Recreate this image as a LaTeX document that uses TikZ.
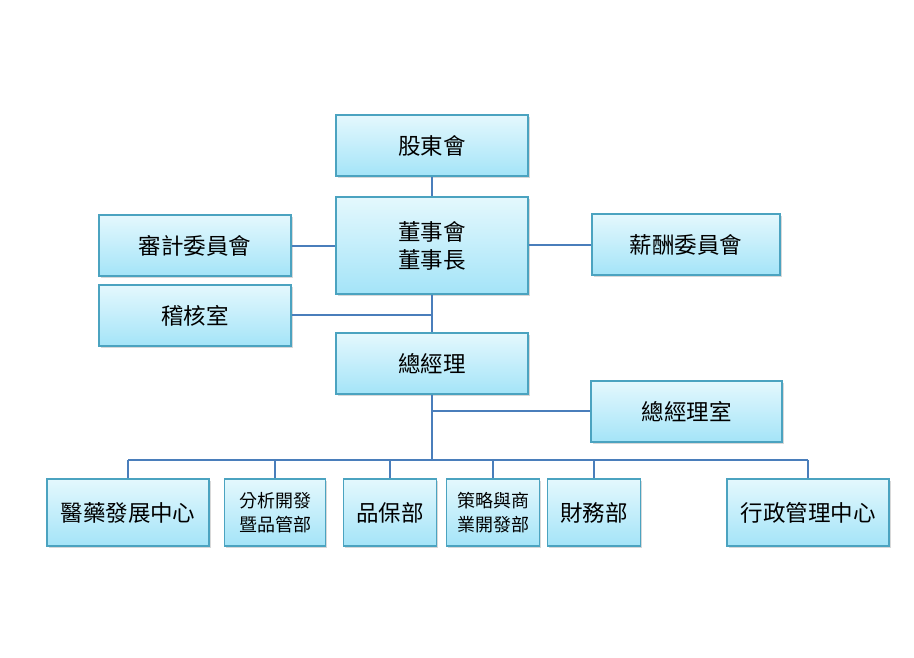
\documentclass[tikz,border=0pt]{standalone}
\usepackage{fontspec}
\newfontfamily\cjk{Noto Sans CJK TC}
\usetikzlibrary{shadows}
\definecolor{boxtop}{HTML}{E4F8FD}
\definecolor{boxbot}{HTML}{A4E4F8}
\definecolor{boxline}{HTML}{4BA3C0}
\definecolor{conn}{HTML}{4A7EBB}
\begin{document}
\begin{tikzpicture}[x=1pt,y=-1pt,
  orgbox/.style={draw=boxline, line width=1.2pt, top color=boxtop, bottom color=boxbot,
    rectangle, inner sep=0pt, align=center, font=\cjk\fontsize{22.5}{28}\selectfont,
    drop shadow={shadow xshift=1.5pt, shadow yshift=-2pt, opacity=0.25, fill=black!60}},
  smallbox/.style={orgbox, font=\cjk\fontsize{18}{24}\selectfont},
  link/.style={draw=conn, line width=1.3pt}]
\useasboundingbox (0,0) rectangle (914,658);
\fill[white] (0,0) rectangle (914,658);
% nodes
\node[orgbox, minimum width=192pt, minimum height=61pt] (gd) at (432,145.5) {股東會};
\node[orgbox, minimum width=192pt, minimum height=97pt] (bd) at (432,245.5) {董事會\\董事長};
\node[orgbox, minimum width=192pt, minimum height=61pt] (ac) at (195,245.5) {審計委員會};
\node[orgbox, minimum width=188pt, minimum height=61pt] (rc) at (686,244.5) {薪酬委員會};
\node[orgbox, minimum width=192pt, minimum height=61pt] (ia) at (195,315.5) {稽核室};
\node[orgbox, minimum width=192pt, minimum height=61pt] (gm) at (432,363.5) {總經理};
\node[orgbox, minimum width=191pt, minimum height=61pt] (go) at (686.5,411.5) {總經理室};
\node[orgbox, minimum width=162pt, minimum height=67pt] (d1) at (128,512.5) {醫藥發展中心};
\node[smallbox, minimum width=101pt, minimum height=67pt] (d2) at (275,512.5) {分析開發\\暨品管部};
\node[orgbox, minimum width=93pt, minimum height=67pt] (d3) at (390,512.5) {品保部};
\node[smallbox, minimum width=93pt, minimum height=67pt] (d4) at (493,512.5) {策略與商\\業開發部};
\node[orgbox, minimum width=93pt, minimum height=67pt] (d5) at (594,512.5) {財務部};
\node[orgbox, minimum width=162pt, minimum height=67pt] (d6) at (808,512.5) {行政管理中心};
% coordinates
\coordinate (trunkA) at (432,315);
\coordinate (trunkB) at (432,411);
\coordinate (bus) at (432,460);
% connectors
\path[link] (gd.south) -- (bd.north);
\path[link] (ac.east |- 0,246) -- (bd.west |- 0,246);
\path[link] (bd.east |- 0,245) -- (rc.west |- 0,245);
\path[link] (bd.south) -- (gm.north);
\path[link] (ia.east |- trunkA) -- (trunkA);
\path[link] (gm.south) -- (bus);
\path[link] (trunkB) -- (go.west |- trunkB);
\path[link] (d1.north |- bus) -- (d6.north |- bus);
\foreach \d in {d1,d2,d3,d4,d5,d6} {\path[link] (\d.north |- bus) -- (\d.north);}
\end{tikzpicture}
\end{document}
